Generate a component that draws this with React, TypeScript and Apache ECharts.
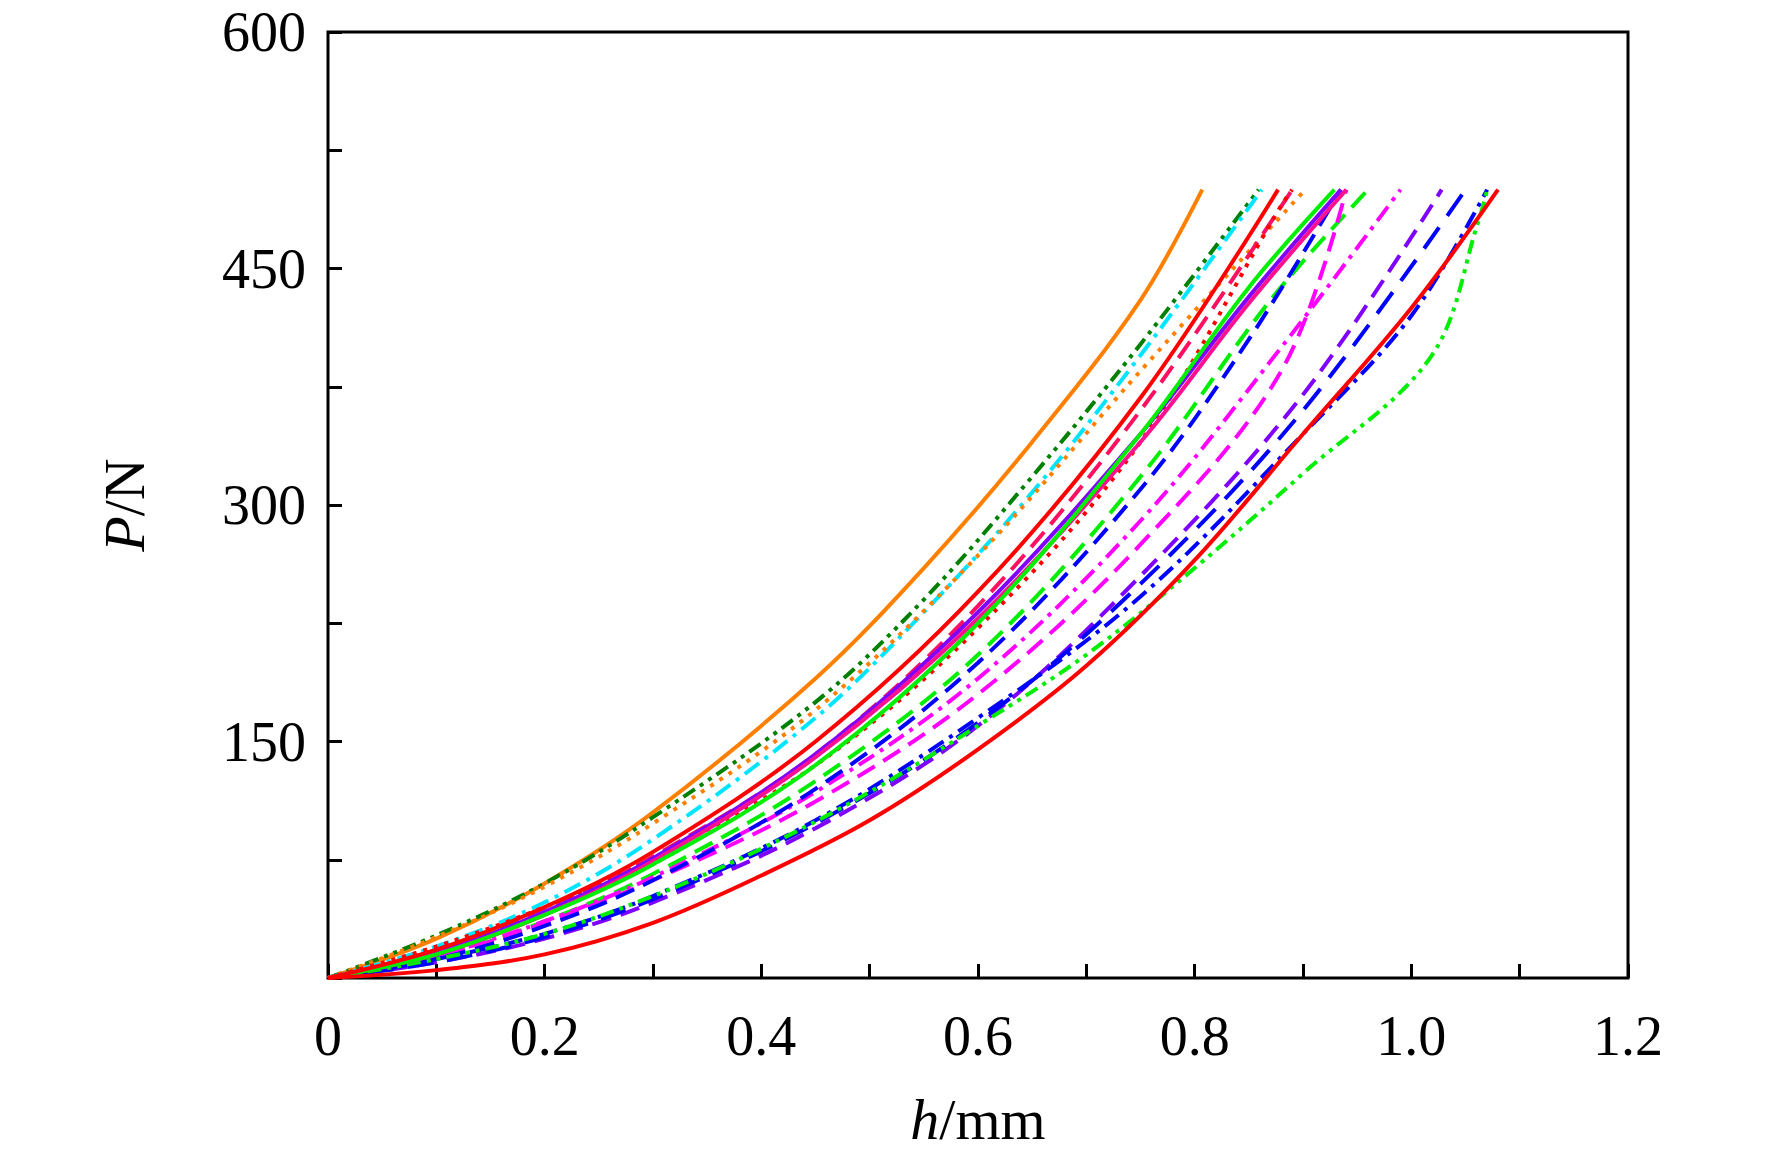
import { useEffect, useRef } from 'react'
import * as echarts from 'echarts'

type Pt = [number, number]

// h (mm), P (N)
const orangeSolid: Pt[] = [[0, 0], [0.1, 25], [0.2, 60], [0.3, 105], [0.45, 190], [0.55, 260], [0.65, 340], [0.75, 430], [0.807, 500]]
const darkGreenDdd: Pt[] = [[0, 0], [0.1, 27], [0.2, 60], [0.3, 102], [0.45, 175], [0.55, 240], [0.65, 318], [0.75, 402], [0.859, 500]]
const cyanDashDot: Pt[] = [[0, 0], [0.1, 20], [0.2, 48], [0.3, 88], [0.45, 165], [0.55, 232], [0.65, 308], [0.75, 395], [0.862, 500]]
const orangeDot: Pt[] = [[0, 0], [0.1, 26], [0.2, 58], [0.3, 98], [0.45, 170], [0.6, 268], [0.75, 385], [0.902, 500]]
const redSolidUpper: Pt[] = [[0, 0], [0.1, 18], [0.2, 45], [0.3, 80], [0.45, 150], [0.6, 245], [0.75, 368], [0.877, 500]]
const crimsonDash: Pt[] = [[0, 0], [0.1, 17], [0.2, 43], [0.3, 77], [0.45, 142], [0.6, 236], [0.75, 360], [0.89, 500]]
const redDot: Pt[] = [[0, 0], [0.1, 20], [0.2, 45], [0.3, 76], [0.45, 135], [0.6, 222], [0.75, 340], [0.88, 490], [0.89, 500]]
const greenSolid: Pt[] = [[0, 0], [0.1, 15], [0.2, 40], [0.3, 72], [0.45, 135], [0.6, 225], [0.75, 345], [0.85, 438], [0.929, 500]]
const purpleSolid: Pt[] = [[0, 0], [0.1, 16], [0.2, 42], [0.3, 76], [0.45, 142], [0.6, 232], [0.75, 345], [0.85, 432], [0.935, 500]]
const magentaSolid: Pt[] = [[0, 0], [0.1, 15], [0.2, 40], [0.3, 74], [0.45, 140], [0.6, 228], [0.75, 340], [0.85, 428], [0.94, 500]]
const blueDash: Pt[] = [[0, 0], [0.1, 12], [0.2, 33], [0.3, 62], [0.45, 120], [0.6, 200], [0.75, 310], [0.85, 405], [0.935, 500]]
const greenDash: Pt[] = [[0, 0], [0.1, 13], [0.2, 36], [0.3, 66], [0.45, 125], [0.6, 205], [0.75, 318], [0.87, 430], [0.96, 500]]
const magentaDashDot: Pt[] = [[0, 0], [0.1, 14], [0.2, 36], [0.3, 64], [0.45, 118], [0.6, 190], [0.75, 290], [0.88, 400], [0.99, 500]]
const magentaDash: Pt[] = [[0, 0], [0.1, 13], [0.2, 35], [0.3, 62], [0.45, 112], [0.6, 180], [0.75, 275], [0.88, 385], [0.94, 500]]
const purpleDash: Pt[] = [[0, 0], [0.1, 10], [0.2, 25], [0.3, 48], [0.45, 95], [0.6, 160], [0.75, 255], [0.9, 370], [1.028, 500]]
const blueDashLong: Pt[] = [[0, 0], [0.1, 10], [0.2, 26], [0.3, 50], [0.45, 98], [0.6, 162], [0.75, 250], [0.9, 360], [1.05, 500]]
const blueDashDot: Pt[] = [[0, 0], [0.1, 12], [0.2, 28], [0.3, 52], [0.45, 100], [0.6, 165], [0.75, 242], [0.9, 345], [1.0, 420], [1.07, 500]]
const redSolidLower: Pt[] = [[0, 0], [0.1, 5], [0.2, 15], [0.3, 35], [0.4, 65], [0.5, 100], [0.6, 145], [0.7, 198], [0.8, 265], [0.9, 345], [1.0, 425], [1.08, 500]]
const greenDdd: Pt[] = [[0, 0], [0.1, 12], [0.2, 28], [0.3, 52], [0.4, 82], [0.5, 118], [0.6, 160], [0.7, 205], [0.8, 260], [0.9, 320], [1.018, 394], [1.062, 480], [1.07, 500]]

const xTicks = ['0', '0.2', '0.4', '0.6', '0.8', '1.0', '1.2']

const DASH = [20, 10]
const DOT = [4, 7]
const DASHDOT = [18, 7, 4, 7]
const DDD = [14, 6, 4, 6, 4, 6]

const seriesDefs: { data: Pt[]; color: string; dash: any }[] = [
  { data: orangeSolid, color: '#ff8000', dash: 'solid' },
  { data: darkGreenDdd, color: '#008000', dash: DDD },
  { data: cyanDashDot, color: '#00e5ff', dash: DASHDOT },
  { data: orangeDot, color: '#ff8000', dash: DOT },
  { data: crimsonDash, color: '#ff1060', dash: DASH },
  { data: redDot, color: '#ff0000', dash: DOT },
  { data: greenDash, color: '#00ee00', dash: DASH },
  { data: magentaDashDot, color: '#ff00ff', dash: DASHDOT },
  { data: magentaDash, color: '#ff00ff', dash: DASH },
  { data: purpleDash, color: '#8000ff', dash: DASH },
  { data: blueDash, color: '#0000ff', dash: DASH },
  { data: blueDashLong, color: '#0000ff', dash: [26, 14] },
  { data: blueDashDot, color: '#0000ff', dash: DASHDOT },
  { data: greenDdd, color: '#00ee00', dash: DDD },
  { data: purpleSolid, color: '#8000ff', dash: 'solid' },
  { data: magentaSolid, color: '#ff1090', dash: 'solid' },
  { data: greenSolid, color: '#00ee00', dash: 'solid' },
  { data: redSolidUpper, color: '#ff0000', dash: 'solid' },
  { data: redSolidLower, color: '#ff0000', dash: 'solid' },
]

const font = 'Liberation Serif'

export default function App() {
  const chartRef = useRef<HTMLDivElement>(null)

  useEffect(() => {
    if (!chartRef.current) return
    const chart = echarts.init(chartRef.current, undefined, { renderer: 'svg' })

    chart.setOption({
      animation: false,
      backgroundColor: '#fff',
      grid: {
        left: 328, top: 32, width: 1300, height: 946,
        show: true, borderColor: '#000', borderWidth: 3, backgroundColor: 'transparent',
      },
      xAxis: {
        type: 'value', min: 0, max: 1.2, interval: 0.1,
        name: '{i|h}/mm', nameLocation: 'middle', nameGap: 112,
        nameTextStyle: { fontFamily: font, fontSize: 58, color: '#000', rich: { i: { fontStyle: 'italic', fontFamily: font, fontSize: 58 } } },
        axisLine: { show: false },
        axisTick: { inside: true, length: 14, lineStyle: { color: '#000', width: 3 } },
        axisLabel: {
          margin: 30, fontFamily: font, fontSize: 56, color: '#000',
          formatter: (v: number) => {
            const k = Math.round(v * 10)
            return k % 2 === 0 ? xTicks[k / 2] : ''
          },
        },
        splitLine: { show: false },
      },
      yAxis: {
        type: 'value', min: 0, max: 600, interval: 75,
        name: '{i|P}/N', nameLocation: 'middle', nameGap: 175,
        nameTextStyle: { fontFamily: font, fontSize: 58, color: '#000', rich: { i: { fontStyle: 'italic', fontFamily: font, fontSize: 58 } } },
        axisLine: { show: false },
        axisTick: { inside: true, length: 14, lineStyle: { color: '#000', width: 3 } },
        axisLabel: {
          margin: 22, fontFamily: font, fontSize: 56, color: '#000',
          formatter: (v: number) => (v === 0 || v % 150 !== 0 ? '' : String(v)),
        },
        splitLine: { show: false },
      },
      series: seriesDefs.map((s) => ({
        type: 'line', data: s.data, smooth: 0.35, showSymbol: false,
        lineStyle: { color: s.color, width: 4, type: s.dash },
      })),
    })

    return () => chart.dispose()
  }, [])

  return <div ref={chartRef} style={{ position: 'fixed', left: 0, top: 0, width: 1772, height: 1163 }} />
}
